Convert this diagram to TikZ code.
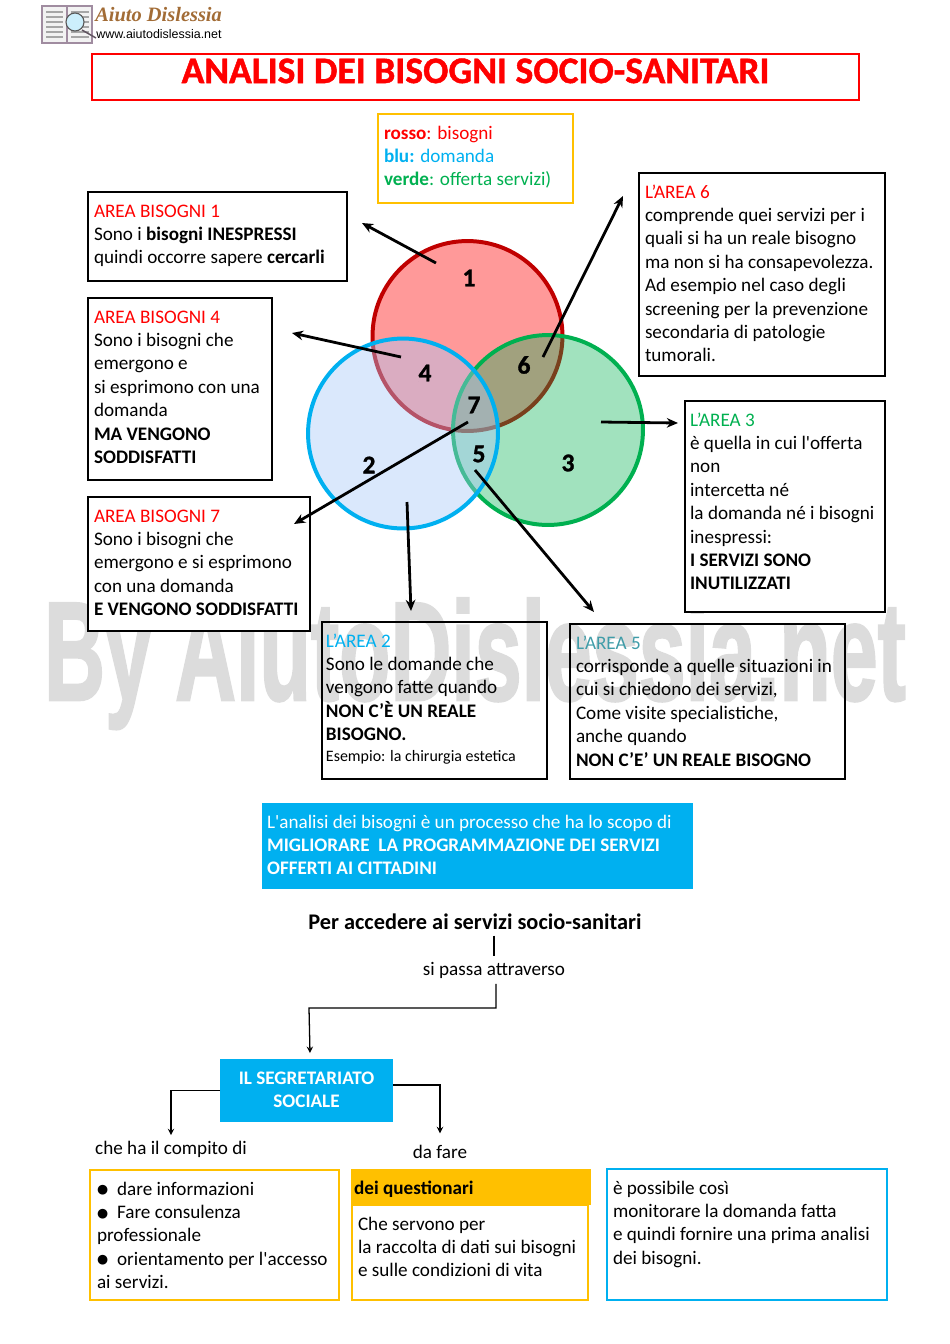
\documentclass[tikz,border=0pt]{standalone}
\usepackage{fontspec}
\usetikzlibrary{arrows.meta}
\setmainfont{Carlito}
\newfontfamily\pesante{Carlito}[BoldFeatures={FakeBold=1.2}]
\newfontfamily\symfont{DejaVu Sans}
\newfontfamily\arialfont{Liberation Sans}
\newfontfamily\filigfont{Liberation Sans}[BoldFeatures={FakeBold=2}]
\newfontfamily\logofont{Liberation Serif}
\definecolor{rosso}{HTML}{FF0000}
\definecolor{scuro}{HTML}{C00000}
\definecolor{blu}{HTML}{00B0F0}
\definecolor{verde}{HTML}{00B050}
\definecolor{giallo}{HTML}{FFC000}
\definecolor{teal}{HTML}{3F9CA8}
\definecolor{celeste}{RGB}{167,200,248}
\definecolor{filigrana}{HTML}{DCDCDC}
\definecolor{malva}{HTML}{A08CA0}
\newcommand{\pallino}{\raisebox{0.9pt}{\symfont\fontsize{8}{8}\selectfont ●}\hspace{5.6pt}}

\begin{document}
\begin{tikzpicture}[
    x=0.6266pt, y=-0.6266pt,
    testo/.style={font=\fontsize{12}{14.65}\selectfont, anchor=north west, align=flush left,
        inner xsep=3.76pt, inner ysep=5.5pt, outer sep=0pt, execute at begin node=\strut},
    areabox/.style={testo, draw=black, line width=1.5pt, fill=white},
    vuoto/.style={testo, draw=black, line width=1.5pt},
    giallobox/.style={testo, draw=giallo, line width=1.6pt},
    blubox/.style={testo, fill=blu, text=white},
    venn/.style={circle, minimum size=119pt, inner sep=0pt, line width=2.5pt},
    numero/.style={font=\fontsize{16}{18}\selectfont\pesante\bfseries},
    freccia/.style={-{Stealth[length=7pt,width=6pt]}, line width=1.75pt},
    filo/.style={line width=0.8pt},
    ]

    \useasboundingbox (0,0) rectangle (950,1344);

    % filigrana
    \node[anchor=base west, inner sep=0pt, xscale=0.6, transform shape, text=filigrana,
        font=\fontsize{88}{90}\selectfont\filigfont\bfseries] (filigr) at (44,700) {By AiutoDislessia.net};

    % logo
    \draw[malva, fill=gray!10, line width=0.7pt] (42,6) rectangle (92,43);
    \draw[malva, line width=0.7pt] (67,7) -- (67,43);
    \foreach \y in {12,17,22,27,32,37}{
    \draw[gray!70, line width=0.7pt] (46,\y) -- (63,\y);
    \draw[gray!70, line width=0.7pt] (71,\y) -- (89,\y);
    }
    \draw[line width=0.9pt, malva!60!black] (82,30) -- (96,38);
    \draw[gray!70!black, fill=cyan!20, line width=0.7pt] (75,22) circle (9);
    \node[anchor=base west, inner sep=0pt, text=brown!85!black,
        font=\fontsize{12.8}{16}\selectfont\logofont\bfseries\itshape] (logotit) at (95,21) {Aiuto Dislessia};
    \node[anchor=base west, inner sep=0pt,
        font=\fontsize{7.8}{9}\selectfont\arialfont] (logourl) at (96,38) {www.aiutodislessia.net};

    % titolo
    \node[anchor=north west, draw=rosso, line width=1.3pt, inner sep=0pt, outer sep=0pt, text=rosso,
        text width=480.6pt, align=flush center, text height=18.2pt, text depth=10.6pt,
        font=\fontsize{23.5}{26}\selectfont\pesante\bfseries] (titolo) at (92,54)
        {ANALISI DEI BISOGNI SOCIO-SANITARI};

    \node[giallobox, text width=114.7pt, text depth=34.5pt] (legenda) at (378,114)
        {\textcolor{rosso}{\textbf{rosso}: bisogni}\\
        \textcolor{blu}{\textbf{blu:} domanda}\\
        \textcolor{verde}{\textbf{verde}: offerta servizi)}};

    % cerchi
    \node[venn, draw=scuro, fill=rosso, fill opacity=0.4] (bisogni) at (467.5,336) {};
    \node[venn, draw=verde, fill=verde, fill opacity=0.37] (offerta) at (548,430) {};
    \node[venn, draw=blu, fill=celeste, fill opacity=0.42] (domanda) at (403,433.5) {};

    \foreach \n/\x/\y in {1/469/278, 2/369/465, 3/568/463, 4/425/373, 5/479/454, 6/524/365, 7/474/405}{
    \node[numero] (num\n) at (\x,\y) {\n};
    }

    % aree
    \node[areabox, text width=154.8pt, text depth=34.5pt] (area1) at (88,192)
        {\textcolor{rosso}{AREA BISOGNI 1}\\
        Sono i \textbf{bisogni INESPRESSI}\\
        quindi occorre sapere \textbf{cercarli}};
    \node[areabox, text width=107.8pt, text depth=92.7pt] (area4) at (88,298)
        {\textcolor{rosso}{AREA BISOGNI 4}\\
        Sono i bisogni che\\
        emergono e\\
        si esprimono con una\\
        domanda\\
        \textbf{MA VENGONO}\\
        \textbf{SODDISFATTI}};
    \node[areabox, text width=131.6pt, text depth=62.7pt] (area7) at (88,497)
        {\textcolor{rosso}{AREA BISOGNI 7}\\
        Sono i bisogni che\\
        emergono e si esprimono\\
        con una domanda\\
        \textbf{E VENGONO SODDISFATTI}};
    \node[vuoto, inner xsep=2.5pt, text width=136pt, text depth=77.1pt] (area2) at (322,622)
        {\textcolor{blu}{L’AREA 2}\\
        Sono le domande che\\
        vengono fatte quando\\
        \textbf{NON C’È UN REALE}\\
        \textbf{BISOGNO.}\\[-1.8pt]
        {\fontsize{10}{12}\selectfont Esempio: la chirurgia estetica}};
    \node[vuoto, text width=164.8pt, text depth=75.8pt] (area5) at (570,624)
        {\textcolor{teal}{L’AREA 5}\\
        corrisponde a quelle situazioni in\\
        cui si chiedono dei servizi,\\
        Come visite specialistiche,\\
        anche quando\\
        \textbf{NON C’E’ UN REALE BISOGNO}};
    \node[areabox, text width=146.6pt, text depth=105.9pt] (area6) at (639,173)
        {\textcolor{rosso}{L’AREA 6}\\
        comprende quei servizi per i\\
        quali si ha un reale bisogno\\
        ma non si ha consapevolezza.\\
        Ad esempio nel caso degli\\
        screening per la prevenzione\\
        secondaria di patologie\\
        tumorali.};
    \node[areabox, inner xsep=3.2pt, text width=118.9pt, text depth=110.9pt] (area3) at (685,401)
        {\textcolor{verde}{L’AREA 3}\\
        è quella in cui l\textquotesingle offerta\\
        non\\
        intercetta né\\
        la domanda né i bisogni\\
        inespressi:\\
        \textbf{I SERVIZI SONO}\\
        \textbf{INUTILIZZATI}};

    % frecce
    \foreach \nome/\xa/\ya/\xb/\yb in {a/436/263/362/223, b/401/357/292/333, c/468/422/294/524,
                        d/407/502/411/611, e/475/470/594/612, f/601/422/678/423, g/543/357/623/196}{
    \coordinate (da\nome) at (\xa,\ya);
    \coordinate (a\nome) at (\xb,\yb);
    \draw[freccia] (da\nome) -- (a\nome);
    }

    % parte bassa
    \node[blubox, inner xsep=3.2pt, text width=263.7pt, text depth=32.6pt] (scopo) at (262,803)
        {L\textquotesingle analisi dei bisogni è un processo che ha lo scopo di\\
        \textbf{MIGLIORARE\ \ LA PROGRAMMAZIONE DEI SERVIZI}\\
        \textbf{OFFERTI AI CITTADINI}};

    \node[font=\fontsize{14}{16}\selectfont\bfseries] (accesso) at (475,922)
        {Per accedere ai servizi socio-sanitari};
    \node[font=\fontsize{12}{14.65}\selectfont] (passa) at (494,970) {si passa attraverso};

    \node[blubox, align=flush center, text width=100.9pt, text depth=18.2pt] (segr) at (220,1059)
        {\textbf{IL SEGRETARIATO}\\ \textbf{SOCIALE}};

    \node[font=\fontsize{12}{14.65}\selectfont] (compito) at (171,1149) {che ha il compito di};
    \node[font=\fontsize{12}{14.65}\selectfont] (fare) at (440,1152) {da fare};

    \coordinate (giro) at (309,1008);
    \coordinate (arrivo) at (310,1053);
    \coordinate (uscita) at (393,1085);
    \draw[filo] (passa |- accesso.south) -- (passa.north);
    \draw[filo, -stealth] ([xshift=1.2pt]passa.south) |- (giro) -- (arrivo);
    \draw[filo, -stealth] (segr.west) -| (compito.north);
    \draw[filo, -stealth, shorten >=4pt] (uscita) -| (fare.north);

    \node[giallobox, inner xsep=4.4pt, text width=147.2pt, text depth=60.2pt] (compiti) at (90,1170)
        {\pallino dare informazioni\\
        \pallino Fare consulenza\\
        professionale\\
        \pallino orientamento per l\textquotesingle accesso\\
        ai servizi.};
    \node[giallobox, text width=140.4pt, text depth=38.2pt] (servono) at (352,1205)
        {Che servono per\\
        la raccolta di dati sui bisogni\\
        e sulle condizioni di vita};
    \node[testo, fill=giallo, inner xsep=2pt, text width=146.4pt, text depth=1.3pt] (quest) at (351,1169)
        {\textbf{dei questionari}};
    \node[testo, draw=blu, line width=1.6pt, text width=167.9pt, text depth=60.8pt] (monit) at (607,1169)
        {è possibile così\\
        monitorare la domanda fatta\\
        e quindi fornire una prima analisi\\
        dei bisogni.};

\end{tikzpicture}
\end{document}
